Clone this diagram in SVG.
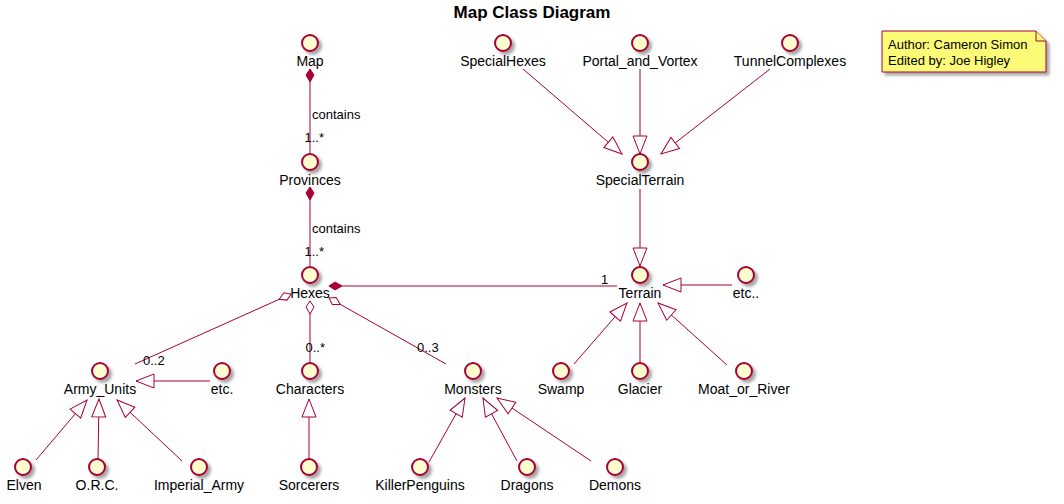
<svg xmlns="http://www.w3.org/2000/svg" width="1064" height="504" viewBox="0 0 1064 504">
<style>
.t{font-family:"Liberation Sans",Arial,sans-serif;font-size:14px;fill:#000;text-anchor:middle}
.e{font-family:"Liberation Sans",Arial,sans-serif;font-size:13px;fill:#000}
.r{text-anchor:end}
.c{fill:#FEFECE;stroke:#A80036;stroke-width:2;filter:url(#sh)}
.l{stroke:#A80036;stroke-width:1;fill:none}
.g{marker-end:url(#tri)}
.cm{marker-start:url(#dia)}
.ag{marker-start:url(#odia)}
</style>
<defs>
<filter id="sh" x="-50%" y="-50%" width="200%" height="200%">
<feGaussianBlur in="SourceAlpha" stdDeviation="1.5"/>
<feOffset dx="3" dy="3" result="b"/>
<feFlood flood-color="#000" flood-opacity="0.35"/>
<feComposite in2="b" operator="in"/>
<feMerge><feMergeNode/><feMergeNode in="SourceGraphic"/></feMerge>
</filter>
<marker id="tri" markerUnits="userSpaceOnUse" markerWidth="22" markerHeight="18" refX="19" refY="8" orient="auto" overflow="visible">
<path d="M1,1 L19,8 L1,15 Z" fill="#fff" stroke="#A80036" stroke-width="1"/>
</marker>
<marker id="dia" markerUnits="userSpaceOnUse" markerWidth="16" markerHeight="10" refX="0" refY="5" orient="auto" overflow="visible">
<path d="M0,5 L6,1 L13,5 L6,9 Z" fill="#A80036" stroke="#A80036" stroke-width="1"/>
</marker>
<marker id="odia" markerUnits="userSpaceOnUse" markerWidth="16" markerHeight="10" refX="0" refY="5" orient="auto" overflow="visible">
<path d="M0,5 L6,1 L13,5 L6,9 Z" fill="#fff" stroke="#A80036" stroke-width="1"/>
</marker>
</defs>
<rect width="1064" height="504" fill="#fff"/>
<text x="532" y="18" font-family="Liberation Sans,Arial,sans-serif" font-size="17" font-weight="bold" text-anchor="middle">Map Class Diagram</text>

<g id="connectors">
<path class="l cm" d="M310,69 L310,153"/>
<text class="e" x="312" y="119">contains</text>
<text class="e r" x="324" y="142">1..*</text>
<path class="l cm" d="M310,187 L310,266"/>
<text class="e" x="312" y="233">contains</text>
<text class="e r" x="324" y="256">1..*</text>
<path class="l cm" d="M329,286 L617,286"/>
<text class="e" x="601" y="284">1</text>
<path class="l ag" d="M291,294 L135,364"/>
<text class="e" x="143" y="365">0..2</text>
<path class="l ag" d="M310,301 L310,364"/>
<text class="e r" x="325" y="352">0..*</text>
<path class="l ag" d="M329,298 L446,364"/>
<text class="e" x="417" y="352">0..3</text>
<path class="l g" d="M523,69 L622,154"/>
<path class="l g" d="M640,69 L640,154"/>
<path class="l g" d="M770,69 L661,154"/>
<path class="l g" d="M640,189 L640,266"/>
<path class="l g" d="M574,364 L627,303"/>
<path class="l g" d="M640,363 L640,303"/>
<path class="l g" d="M727,365 L658,303"/>
<path class="l g" d="M732,285 L663,285"/>
<path class="l g" d="M210,381 L136,381"/>
<path class="l g" d="M36,460 L87,400"/>
<path class="l g" d="M98,460 L99,399"/>
<path class="l g" d="M182,461 L117,400"/>
<path class="l g" d="M309,460 L309,399"/>
<path class="l g" d="M429,462 L465,398"/>
<path class="l g" d="M517,461 L483,398"/>
<path class="l g" d="M591,461 L497,398"/>
</g>

<g id="Map"><circle class="c" cx="310" cy="43" r="8"/><text class="t" x="310" y="66">Map</text></g>
<g id="Provinces"><circle class="c" cx="310" cy="162" r="8"/><text class="t" x="310" y="185">Provinces</text></g>
<g id="Hexes"><circle class="c" cx="310" cy="275" r="8"/><text class="t" x="310" y="298">Hexes</text></g>
<g id="SpecialHexes"><circle class="c" cx="503" cy="43" r="8"/><text class="t" x="503" y="66">SpecialHexes</text></g>
<g id="Portal_and_Vortex"><circle class="c" cx="640" cy="43" r="8"/><text class="t" x="640" y="66">Portal_and_Vortex</text></g>
<g id="TunnelComplexes"><circle class="c" cx="790" cy="43" r="8"/><text class="t" x="790" y="66">TunnelComplexes</text></g>
<g id="SpecialTerrain"><circle class="c" cx="640" cy="162" r="8"/><text class="t" x="640" y="185">SpecialTerrain</text></g>
<g id="Terrain"><circle class="c" cx="640" cy="275" r="8"/><text class="t" x="640" y="298">Terrain</text></g>
<g id="etc2"><circle class="c" cx="746" cy="275" r="8"/><text class="t" x="746" y="298">etc..</text></g>
<g id="Army_Units"><circle class="c" cx="100" cy="371" r="8"/><text class="t" x="100" y="394">Army_Units</text></g>
<g id="etc1"><circle class="c" cx="222" cy="371" r="8"/><text class="t" x="222" y="394">etc.</text></g>
<g id="Characters"><circle class="c" cx="310" cy="371" r="8"/><text class="t" x="310" y="394">Characters</text></g>
<g id="Monsters"><circle class="c" cx="473" cy="371" r="8"/><text class="t" x="473" y="394">Monsters</text></g>
<g id="Swamp"><circle class="c" cx="561" cy="371" r="8"/><text class="t" x="561" y="394">Swamp</text></g>
<g id="Glacier"><circle class="c" cx="640" cy="371" r="8"/><text class="t" x="640" y="394">Glacier</text></g>
<g id="Moat_or_River"><circle class="c" cx="744" cy="371" r="8"/><text class="t" x="744" y="394">Moat_or_River</text></g>
<g id="Elven"><circle class="c" cx="23" cy="467" r="8"/><text class="t" x="24" y="490">Elven</text></g>
<g id="ORC"><circle class="c" cx="97" cy="467" r="8"/><text class="t" x="97" y="490">O.R.C.</text></g>
<g id="Imperial_Army"><circle class="c" cx="199" cy="467" r="8"/><text class="t" x="199" y="490">Imperial_Army</text></g>
<g id="Sorcerers"><circle class="c" cx="309" cy="467" r="8"/><text class="t" x="309" y="490">Sorcerers</text></g>
<g id="KillerPenguins"><circle class="c" cx="420" cy="467" r="8"/><text class="t" x="420" y="490">KillerPenguins</text></g>
<g id="Dragons"><circle class="c" cx="527" cy="467" r="8"/><text class="t" x="527" y="490">Dragons</text></g>
<g id="Demons"><circle class="c" cx="615" cy="467" r="8"/><text class="t" x="615" y="490">Demons</text></g>

<g id="note">
<path d="M882,31 L1036,31 L1046,41 L1046,72 L882,72 Z" fill="#FBFB77" stroke="#A80036" stroke-width="1" filter="url(#sh)"/>
<path d="M1036,31 L1036,41 L1046,41" fill="#FBFB77" stroke="#A80036" stroke-width="1"/>
<text class="e" x="888" y="49">Author: Cameron Simon</text>
<text class="e" x="888" y="65">Edited by: Joe Higley</text>
</g>
</svg>
